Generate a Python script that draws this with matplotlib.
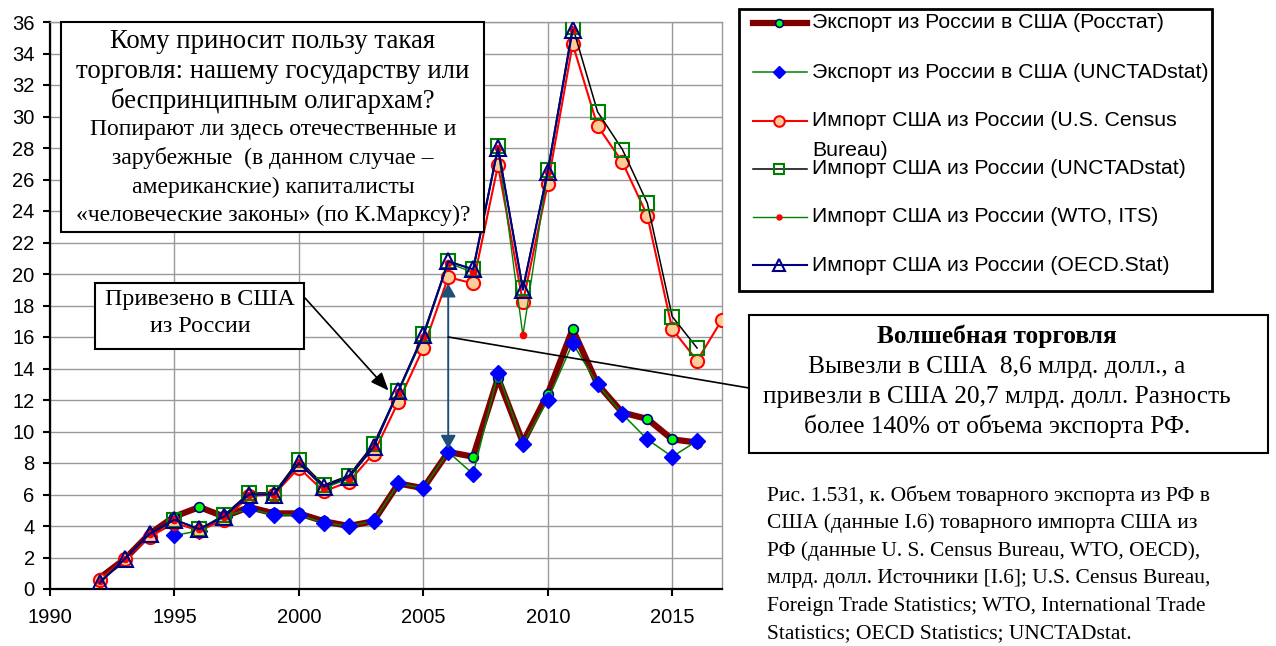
import matplotlib
matplotlib.use("Agg")
import matplotlib.pyplot as plt
from matplotlib.patches import Rectangle
from matplotlib.lines import Line2D

W, H = 1276, 646

# --- data (млрд. долл.) ---
years_exp_rs = list(range(1992, 2017))
exp_rosstat = [0.7, 1.9, 3.5, 4.6, 5.2, 4.6, 5.2, 4.8, 4.8, 4.3, 4.0, 4.3, 6.7,
               6.4, 8.7, 8.4, 13.4, 9.3, 12.4, 16.5, 13.0, 11.2, 10.8, 9.5, 9.3]

years_exp_un = list(range(1995, 2017))
exp_unctad = [3.4, 3.7, 4.6, 5.1, 4.7, 4.7, 4.2, 4.0, 4.3, 6.7, 6.4, 8.7, 7.3,
              13.7, 9.2, 12.0, 15.6, 13.0, 11.1, 9.5, 8.4, 9.4]

years_census = list(range(1992, 2018))
imp_census = [0.6, 1.9, 3.3, 4.2, 3.7, 4.4, 5.9, 6.0, 7.7, 6.2, 6.8, 8.6, 11.9,
              15.3, 19.8, 19.4, 26.9, 18.2, 25.7, 34.6, 29.4, 27.1, 23.7, 16.5,
              14.5, 17.1]

years_imp_un = list(range(1995, 2017))
imp_unctad = [4.4, 3.8, 4.7, 6.1, 6.1, 8.2, 6.6, 7.2, 9.2, 12.6, 16.2, 20.8,
              20.3, 28.1, 19.1, 26.6, 35.7, 30.3, 27.9, 24.5, 17.3, 15.3]

years_wto = list(range(1992, 2012))
imp_wto = [0.5, 1.9, 3.5, 4.4, 3.8, 4.6, 6.0, 6.0, 8.0, 6.4, 7.0, 9.0, 12.5,
           16.0, 20.7, 20.1, 28.0, 16.1, 26.5, 35.5]

years_oecd = list(range(1992, 2012))
imp_oecd = [0.4, 1.9, 3.5, 4.4, 3.8, 4.6, 6.0, 6.0, 8.0, 6.5, 7.1, 9.0, 12.6,
            16.1, 20.8, 20.3, 28.0, 19.0, 26.5, 35.5]

labels = ["Экспорт из России в США (Росстат)",
          "Экспорт из России в США (UNCTADstat)",
          "Импорт США из России (U.S. Census\nBureau)",
          "Импорт США из России (UNCTADstat)",
          "Импорт США из России (WTO, ITS)",
          "Импорт США из России (OECD.Stat)"]

styles = [
    dict(color="#800000", lw=4.5, marker="o", ms=7, mfc="#00FF00", mec="#000080", mew=1.2),
    dict(color="#008000", lw=1.1, marker="D", ms=8, mfc="#0000FF", mec="#0000FF", mew=1),
    dict(color="#FF0000", lw=1.5, marker="o", ms=9.5, mfc="#FFCC99", mec="#FF0000", mew=1.5),
    dict(color="#000000", lw=1.1, marker="s", ms=9.5, mfc="none", mec="#008000", mew=1.5),
    dict(color="#008000", lw=1.0, marker="o", ms=4.5, mfc="#FF0000", mec="#FF0000", mew=1),
    dict(color="#000080", lw=1.5, marker="^", ms=11, mfc="none", mec="#000080", mew=1.5),
]

series = [(years_exp_rs, exp_rosstat), (years_exp_un, exp_unctad),
          (years_census, imp_census), (years_imp_un, imp_unctad),
          (years_wto, imp_wto), (years_oecd, imp_oecd)]


def fx(x):
    return x / W


def fy(y):
    return 1 - y / H


fig = plt.figure(figsize=(W / 100, H / 100), dpi=100)
ax = fig.add_axes([fx(50), fy(589), fx(672), 567 / H])

for i, (xs, ys) in enumerate(series):
    ax.plot(xs, ys, zorder=3 + i, **styles[i])

ax.set_xlim(1990, 2017)
ax.set_ylim(0, 36)
ax.set_xticks(range(1990, 2016, 5))
ax.set_yticks(range(0, 37, 2))
ax.grid(True, color="#999999", lw=1.0)
ax.set_axisbelow(True)
for s in ("top", "right"):
    ax.spines[s].set_color("#999999")
    ax.spines[s].set_linewidth(1.0)
for s in ("left", "bottom"):
    ax.spines[s].set_linewidth(1.6)
ax.tick_params(labelsize=14.5, length=5, width=1.5)
ax.tick_params(axis="x", pad=9)
ax.tick_params(axis="y", pad=6)
for t in ax.get_xticklabels() + ax.get_yticklabels():
    t.set_fontfamily("Liberation Sans")

# vertical double arrow at 2006
ax.annotate("", xy=(2006, 19.4), xytext=(2006, 8.9),
            arrowprops=dict(arrowstyle="<|-|>,head_length=0.8,head_width=0.45",
                            color="#1F4E79", lw=1.4, shrinkA=0, shrinkB=0),
            zorder=20)

# arrow from "Привезено" box
ax.annotate("", xy=(2003.6, 12.6), xytext=(fx(305), fy(298)),
            textcoords="figure fraction",
            arrowprops=dict(arrowstyle="-|>,head_length=1.1,head_width=0.45",
                            color="black", lw=1.2, shrinkA=0, shrinkB=0),
            zorder=20)

# connector to "Волшебная торговля" box
ax.annotate("", xy=(2006, 16.0), xytext=(fx(749), fy(388)),
            textcoords="figure fraction",
            arrowprops=dict(arrowstyle="-", color="black", lw=1.2,
                            shrinkA=0, shrinkB=0),
            zorder=20, annotation_clip=False)


def box(x0, y0, x1, y1, lw=1.5):
    r = Rectangle((fx(x0), fy(y1)), fx(x1 - x0), (y1 - y0) / H,
                  transform=fig.transFigure, facecolor="white",
                  edgecolor="black", lw=lw, zorder=30)
    fig.add_artist(r)


serif = "Liberation Serif"

# question box
box(61, 22, 484, 232)
for txt, y, sz in [("Кому приносит пользу такая", 41, 19.3),
                   ("торговля: нашему государству или", 71, 19.3),
                   ("беспринципным олигархам?", 101, 19.3),
                   ("Попирают ли здесь отечественные и", 129, 17),
                   ("зарубежные  (в данном случае –", 158, 17),
                   ("американские) капиталисты", 187, 17),
                   ("«человеческие законы» (по К.Марксу)?", 215, 17)]:
    fig.text(fx(273), fy(y), txt, ha="center", va="center", fontsize=sz,
             family=serif, zorder=31)

# "Привезено" box
box(95, 283, 304, 349)
fig.text(fx(200), fy(299), "Привезено в США", ha="center", va="center",
         fontsize=17.3, family=serif, zorder=31)
fig.text(fx(200), fy(327), "из России", ha="center", va="center",
         fontsize=17.3, family=serif, zorder=31)

# "Волшебная торговля" box
box(749, 315, 1268, 453)
fig.text(fx(997), fy(336), "Волшебная торговля", ha="center", va="center",
         fontsize=18.3, family=serif, weight="bold", zorder=31)
for txt, y in [("Вывезли в США  8,6 млрд. долл., а", 367),
               ("привезли в США 20,7 млрд. долл. Разность", 397),
               ("более 140% от объема экспорта РФ.", 426)]:
    fig.text(fx(997), fy(y), txt, ha="center", va="center", fontsize=18.3,
             family=serif, zorder=31)

# caption
caption = ["Рис. 1.531, к. Объем товарного экспорта из РФ в",
           "США (данные I.6) товарного импорта США из",
           "РФ (данные U. S. Census Bureau, WTO, OECD),",
           "млрд. долл. Источники [I.6]; U.S. Census Bureau,",
           "Foreign Trade Statistics; WTO, International Trade",
           "Statistics; OECD Statistics; UNCTADstat."]
for i, line in enumerate(caption):
    fig.text(fx(767), fy(496 + i * 27.6), line, ha="left", va="center",
             fontsize=15.5, family=serif)

# legend drawn by hand
box(739, 9, 1212, 291, lw=2)
lg_y = [23, 72, 121, 169, 217, 265]
for i, y in enumerate(lg_y):
    st = styles[i]
    fig.add_artist(Line2D([fx(753), fx(807)], [fy(y), fy(y)],
                          transform=fig.transFigure, color=st["color"],
                          lw=st["lw"], zorder=31))
    fig.add_artist(Line2D([fx(779)], [fy(y)], transform=fig.transFigure,
                          marker=st["marker"], ms=st["ms"] * 0.8,
                          mfc=st["mfc"], mec=st["mec"], mew=st["mew"],
                          ls="none", zorder=32))
    lines = labels[i].split("\n")
    for j, part in enumerate(lines):
        fig.text(fx(812), fy(y + j * 29), part, ha="left", va="center",
                 fontsize=15.3, family="Liberation Sans", zorder=33)

fig.savefig("out.png", dpi=100)
